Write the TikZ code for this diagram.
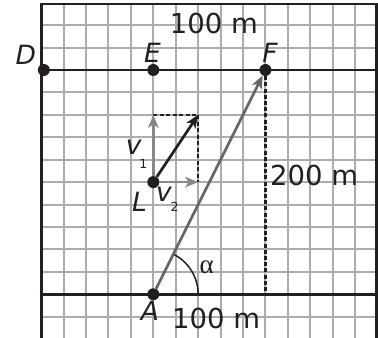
\documentclass[tikz,border=0pt]{standalone}
\usepackage{fontspec}
\setmainfont{DejaVu Sans}
\newfontfamily\alphafont{Liberation Serif}
\usetikzlibrary{arrows.meta}
\definecolor{ink}{HTML}{231F20}
\definecolor{gridc}{HTML}{ABACAF}
\definecolor{arrdark}{HTML}{646567}
\definecolor{arrlight}{HTML}{86878A}
\begin{document}
\begin{tikzpicture}[x=22.43pt,y=22.43pt,
 gridline/.style={gridc, line width=2pt},
 frame/.style={ink, line width=2.8pt},
 dot/.style={circle, fill=ink, inner sep=0pt, minimum size=12pt},
 lbl/.style={font=\fontsize{26.5}{30}\selectfont\itshape, text=ink, inner sep=0pt},
 sublbl/.style={font=\fontsize{12.5}{15}\selectfont, text=ink, inner sep=0pt},
 meas/.style={font=\fontsize{27.5}{30}\selectfont, text=ink, inner sep=0pt},
 tip/.style={-{Stealth[length=13pt,width=10.5pt,inset=3.5pt]}},
 arrowline/.style={line width=2.7pt, tip},
 thindash/.style={ink, line width=1.5pt, dash pattern=on 4pt off 2.5pt},
 thickdash/.style={ink, line width=2.5pt, dash pattern=on 4pt off 2.2pt},
]
\useasboundingbox (-6.835,-1.948) rectangle (10.018,13.12);
\clip (-6.835,-1.948) rectangle (10.018,13.12);
% grid
\foreach \i in {-4,...,9} \draw[gridline] (\i,-2.2) -- (\i,12.94);
\foreach \j in {-1,...,12} \draw[gridline] (-5,\j) -- (9.95,\j);
% frame
\draw[frame] (-5,-2.2) -- (-5,12.94) -- (9.95,12.94) -- (9.95,-2.2);
\draw[frame] (-5,10) -- (9.95,10);
\draw[frame] (-5,0) -- (9.95,0);
% dots
\node[dot] (D) at (-4.88,10) {};
\node[dot] (E) at (0,10) {};
\node[dot] (F) at (5,10) {};
\node[dot] (A) at (0,0) {};
\node[dot] (L) at (0,5) {};
% helper coordinates
\coordinate (P) at (2,8);
\coordinate (Q) at (0,8);
\coordinate (R) at (2,5);
\coordinate (Fb) at (5,0);
% angle arc
\draw[ink, line width=1.5pt] (2,0) arc[start angle=0, end angle=63.43, radius=2];
% dashed lines
\draw[thindash] (Q) -- (P) -- (R);
\draw[thickdash] (F) -- (Fb);
% arrows
\draw[arrdark, arrowline] (A) -- (F);
\draw[ink, arrowline] (L) -- (P);
\draw[arrlight, arrowline] (L) -- (Q);
\draw[arrlight, arrowline] (L) -- (R);
% labels
\node[lbl] (tD) at (-5.68,10.67) {D};
\node[lbl] (tE) at (-0.04,10.76) {E};
\node[lbl] (tF) at (5.20,10.76) {F};
\node[lbl] (tL) at (-0.62,4.14) {L};
\node[lbl] (tA) at (-0.15,-0.75) {A};
\node[lbl] (v1) at (-0.87,6.54) {v};
\node[sublbl] (v1s) at (-0.44,5.82) {1};
\node[lbl] (v2) at (0.48,4.45) {v};
\node[sublbl] (v2s) at (0.95,3.90) {2};
\node[meas] (m1) at (2.70,12.08) {100 m};
\node[meas] (m2) at (7.17,5.30) {200 m};
\node[meas] (m3) at (2.80,-1.09) {100 m};
\node[font=\alphafont\fontsize{27}{30}\selectfont, text=ink, inner sep=0pt] (al) at (2.38,1.22) {α};
\end{tikzpicture}
\end{document}
